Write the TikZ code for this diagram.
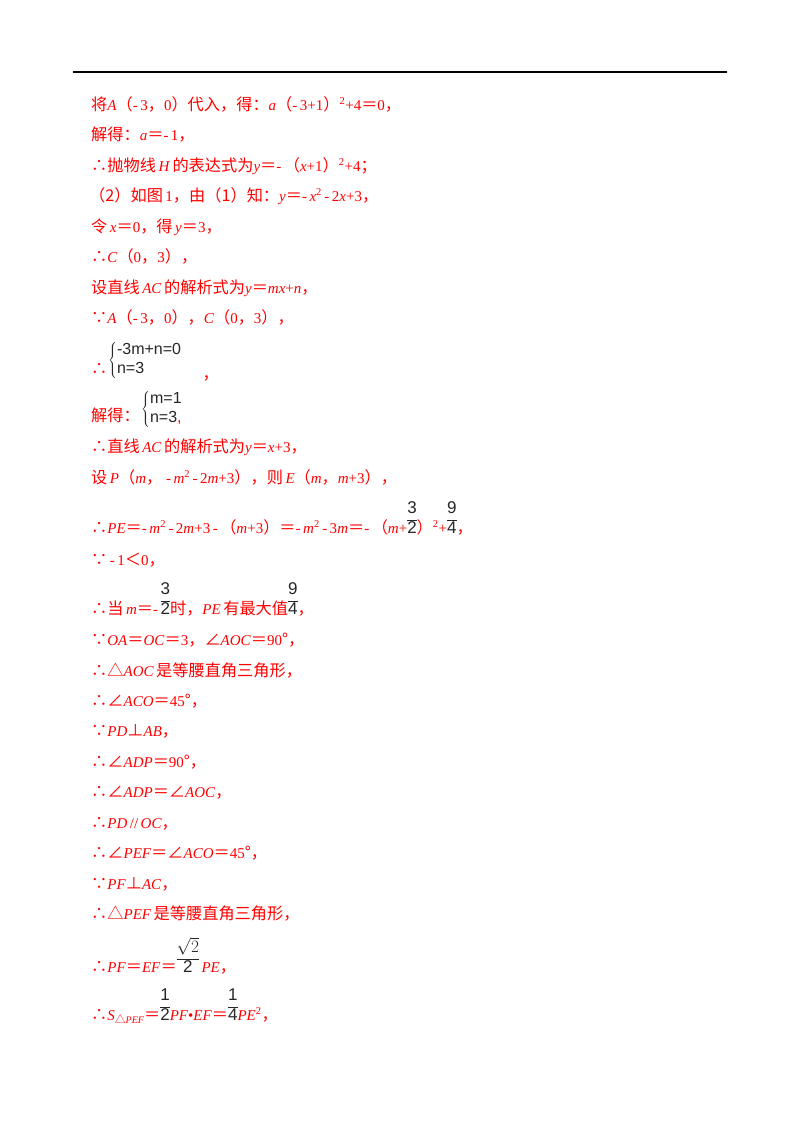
\documentclass[tikz,border=0pt]{standalone}
\usepackage{fontspec}
\setmainfont{Liberation Serif}
\setsansfont{Liberation Sans}
\newfontfamily\cjk[Scale=1.08]{Noto Sans CJK SC}
\usetikzlibrary{positioning}
\newcommand{\zh}[1]{{\cjk #1}}
\newcommand{\var}[1]{\textit{#1}}
\newcommand{\fr}[2]{{\sffamily\color{black!85}\fontsize{17pt}{18pt}\selectfont\renewcommand{\arraystretch}{1.0}\begin{tabular}[b]{@{}c@{}}#1\\[1pt]\hline #2\end{tabular}}}
\newcommand{\sys}[2]{{\sffamily\color{black!85}\fontsize{16pt}{18pt}\selectfont\renewcommand{\arraystretch}{1.05}$\left\{\begin{tabular}{@{}l@{}}#1\\#2\end{tabular}\right.$}}
\begin{document}
\begin{tikzpicture}[x=1pt, y=1pt, font=\fontsize{15pt}{17pt}\selectfont]
    \tikzstyle{ln} = [anchor=base west, inner sep=0, text=red]
    \useasboundingbox (0,0) rectangle (800,-1132);
    \draw[line width=1.5pt] (73,-72) -- (727,-72);
    \node [ln] at (91,-110) (l1) {\zh{将}\var{A}\zh{（}-\,3\zh{，}0\zh{）代入，得：}\var{a}\zh{（}-\,3+1\zh{）}\textsuperscript{2}+4\zh{＝}0\zh{，}};
    \node [ln] at (91,-140) (l2) {\zh{解得：}\var{a}\zh{＝}-\,1\zh{，}};
    \node [ln] at (91,-171) (l3) {\zh{∴抛物线}\,\var{H}\,\zh{的表达式为}\var{y}\zh{＝}-\,\zh{（}\var{x}+1\zh{）}\textsuperscript{2}+4\zh{；}};
    \node [ln] at (89,-201) (l4) {\zh{（2）如图}\,1\zh{，由（1）知：}\var{y}\zh{＝}-\,\var{x}\textsuperscript{2}\,-\,2\var{x}+3\zh{，}};
    \node [ln] at (91,-232) (l5) {\zh{令}\,\var{x}\zh{＝}0\zh{，得}\,\var{y}\zh{＝}3\zh{，}};
    \node [ln] at (91,-262) (l6) {\zh{∴}\var{C}\zh{（}0\zh{，}3\zh{），}};
    \node [ln] at (91,-293) (l7) {\zh{设直线}\,\var{AC}\,\zh{的解析式为}\var{y}\zh{＝}\var{mx}+\var{n}\zh{，}};
    \node [ln] at (91,-323) (l8) {\zh{∵}\var{A}\zh{（}-\,3\zh{，}0\zh{），}\var{C}\zh{（}0\zh{，}3\zh{），}};
    \node [ln] at (91,-374) (l9) {\zh{∴}};
    \node [anchor=west, inner sep=0] at (108,-360) (s1) {\sys{-3m+n=0}{n=3}};
    \node [ln, right=20pt of s1.south east, anchor=base west] (c1) {\zh{，}};
    \node [ln] at (91,-421) (l10) {\zh{解得：}};
    \node [anchor=west, inner sep=0] at (141,-409) (s2) {\sys{m=1}{n=3\textcolor{red}{,}}};
    \node [ln] at (91,-452) (l11) {\zh{∴直线}\,\var{AC}\,\zh{的解析式为}\var{y}\zh{＝}\var{x}+3\zh{，}};
    \node [ln] at (91,-483) (l12) {\zh{设}\,\var{P}\zh{（}\var{m}\zh{，}\ -\,\var{m}\textsuperscript{2}\,-\,2\var{m}+3\zh{），则}\,\var{E}\zh{（}\var{m}\zh{，}\var{m}+3\zh{），}};
    \node [ln] at (91,-533) (l13) {\zh{∴}\var{PE}\zh{＝}-\,\var{m}\textsuperscript{2}\,-\,2\var{m}+3\,-\,\zh{（}\var{m}+3\zh{）＝}-\,\var{m}\textsuperscript{2}\,-\,3\var{m}\zh{＝}-\,\zh{（}\var{m}+\fr{3}{2}\zh{）}\textsuperscript{2}+\fr{9}{4}\zh{，}};
    \node [ln] at (91,-565) (l14) {\zh{∵}\,-\,1\zh{＜}0\zh{，}};
    \node [ln] at (91,-614) (l15) {\zh{∴当}\,\var{m}\zh{＝}-\,\fr{3}{2}\zh{时，}\var{PE}\,\zh{有最大值}\fr{9}{4}\zh{，}};
    \node [ln] at (91,-645) (l16) {\zh{∵}\var{OA}\zh{＝}\var{OC}\zh{＝}3\zh{，∠}\var{AOC}\zh{＝}90\zh{°，}};
    \node [ln] at (91,-676) (l17) {\zh{∴△}\var{AOC}\,\zh{是等腰直角三角形，}};
    \node [ln] at (91,-706) (l18) {\zh{∴∠}\var{ACO}\zh{＝}45\zh{°，}};
    \node [ln] at (91,-736) (l19) {\zh{∵}\var{PD}\zh{⊥}\var{AB}\zh{，}};
    \node [ln] at (91,-767) (l20) {\zh{∴∠}\var{ADP}\zh{＝}90\zh{°，}};
    \node [ln] at (91,-797) (l21) {\zh{∴∠}\var{ADP}\zh{＝∠}\var{AOC}\zh{，}};
    \node [ln] at (91,-828) (l22) {\zh{∴}\var{PD}\,//\,\var{OC}\zh{，}};
    \node [ln] at (91,-858) (l23) {\zh{∴∠}\var{PEF}\zh{＝∠}\var{ACO}\zh{＝}45\zh{°，}};
    \node [ln] at (91,-889) (l24) {\zh{∵}\var{PF}\zh{⊥}\var{AC}\zh{，}};
    \node [ln] at (91,-919) (l25) {\zh{∴△}\var{PEF}\,\zh{是等腰直角三角形，}};
    \node [ln] at (91,-972) (l26) {\zh{∴}\var{PF}\zh{＝}\var{EF}\zh{＝}\fr{$\sqrt{2}$}{2}\,\var{PE}\zh{，}};
    \node [ln] at (91,-1020) (l27) {\zh{∴}\var{S}\raisebox{-3pt}{\fontsize{10pt}{11pt}\selectfont\zh{△}\var{PEF}}\zh{＝}\fr{1}{2}\var{PF}\textbullet\var{EF}\zh{＝}\fr{1}{4}\var{PE}\textsuperscript{2}\zh{，}};
\end{tikzpicture}
\end{document}
